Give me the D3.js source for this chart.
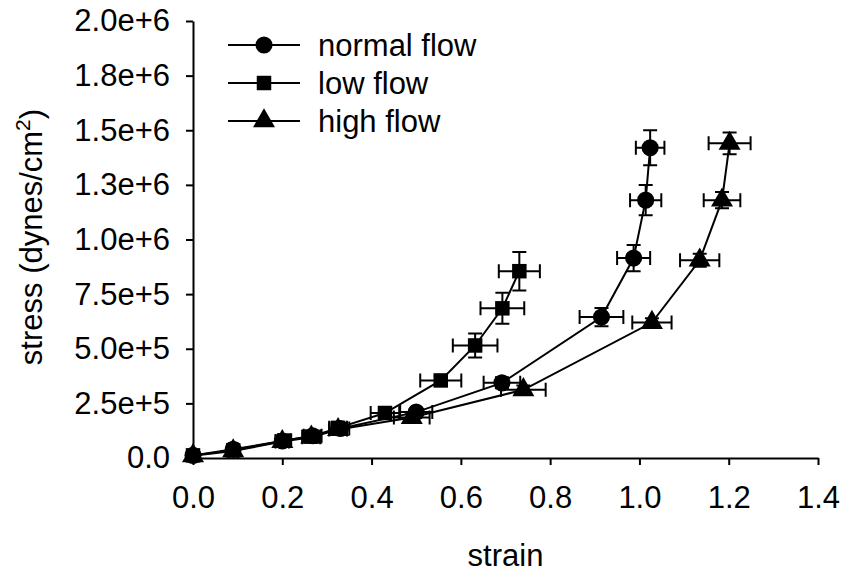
<!DOCTYPE html>
<html>
<head>
<meta charset="utf-8">
<script src="https://cdn.jsdelivr.net/npm/d3@7"></script>
<style>
  body { margin: 0; background: #fff; }
  text { font-family: "Liberation Sans", Arial, sans-serif; fill: #000; }
</style>
</head>
<body>
<svg class="chart"></svg>
<script>
const size = { w: 845, h: 574 };
const margin = { top: 21, right: 27, bottom: 116, left: 193 };

// data: [strain, stress]
const normalFlow = [[0, 1.2e4], [0.09, 4e4], [0.2, 7.8e4], [0.268, 1.02e5], [0.33, 1.35e5], [0.5, 2.1e5], [0.692, 3.44e5], [0.915, 6.45e5], [0.987, 9.15e5], [1.014, 1.18e6], [1.024, 1.42e6]];
const normalXErr = [0, 0.01, 0.015, 0.02, 0.02, 0.036, 0.041, 0.049, 0.037, 0.035, 0.032];
const normalYErr = [0, 5e3, 8e3, 1e4, 1e4, 1.5e4, 2.5e4, 4.2e4, 6e4, 6.9e4, 8e4];

const lowFlow = [[0, 1.2e4], [0.09, 3.5e4], [0.205, 8e4], [0.265, 9.8e4], [0.325, 1.38e5], [0.43, 2.06e5], [0.555, 3.55e5], [0.632, 5.15e5], [0.693, 6.85e5], [0.731, 8.55e5]];
const lowXErr = [0, 0.01, 0.015, 0.02, 0.02, 0.032, 0.046, 0.05, 0.049, 0.046];
const lowYErr = [0, 5e3, 8e3, 1e4, 1.2e4, 1.5e4, 2e4, 5.5e4, 7.1e4, 8.8e4];

const highFlow = [[0, 1e4], [0.09, 3.2e4], [0.2, 7.5e4], [0.265, 9.5e4], [0.325, 1.3e5], [0.49, 1.85e5], [0.74, 3.12e5], [1.028, 6.2e5], [1.135, 9.05e5], [1.185, 1.18e6], [1.202, 1.44e6]];
const highXErr = [0, 0.01, 0.015, 0.02, 0.02, 0.04, 0.05, 0.044, 0.044, 0.041, 0.047];
const highYErr = [0, 5e3, 8e3, 1e4, 1e4, 1.5e4, 2e4, 2e4, 3e4, 3.7e4, 5e4];

const xTicks = [0, 0.2, 0.4, 0.6, 0.8, 1.0, 1.2, 1.4];
const yTicks = [0, 2.5e5, 5e5, 7.5e5, 1e6, 1.25e6, 1.5e6, 1.75e6, 2e6];
const yTickLabels = ["0.0", "2.5e+5", "5.0e+5", "7.5e+5", "1.0e+6", "1.3e+6", "1.5e+6", "1.8e+6", "2.0e+6"];

const seriesNames = ["normal flow", "low flow", "high flow"];
const seriesSymbols = [d3.symbolCircle, d3.symbolSquare, d3.symbolTriangle];
const symbolSizes = [230, 210, 210];

const series = [
	{ data: normalFlow, xe: normalXErr, ye: normalYErr },
	{ data: lowFlow, xe: lowXErr, ye: lowYErr },
	{ data: highFlow, xe: highXErr, ye: highYErr },
];

const svg = d3.select("svg.chart").attr("width", size.w).attr("height", size.h);
const plotW = size.w - margin.left - margin.right;
const plotH = size.h - margin.top - margin.bottom;
const g = svg.append("g").attr("transform", `translate(${margin.left},${margin.top})`);

const x = d3.scaleLinear().domain([0, 1.4]).range([0, plotW]);
const y = d3.scaleLinear().domain([0, 2e6]).range([plotH, 0]);

// axes
const xAxis = g.append("g")
	.attr("transform", `translate(0,${plotH})`)
	.call(d3.axisBottom(x).tickValues(xTicks).tickFormat(d3.format(".1f")).tickSizeOuter(0).tickSizeInner(7).tickPadding(21));
const yAxis = g.append("g")
	.call(d3.axisLeft(y).tickValues(yTicks).tickFormat((d, i) => yTickLabels[i]).tickSizeOuter(0).tickSizeInner(7).tickPadding(16));

[xAxis, yAxis].forEach((ax) => {
	ax.select(".domain").attr("stroke", "#000").attr("stroke-width", 2);
	ax.selectAll(".tick line").attr("stroke", "#000").attr("stroke-width", 2);
	ax.selectAll(".tick text").attr("font-size", 31).attr("font-family", "Liberation Sans, Arial, sans-serif").attr("fill", "#000");
});

// axis titles
svg.append("text")
	.attr("x", margin.left + plotW / 2)
	.attr("y", 566)
	.attr("text-anchor", "middle")
	.attr("font-size", 31)
	.text("strain");

const yTitle = svg.append("text")
	.attr("transform", `translate(42,${margin.top + 216}) rotate(-90)`)
	.attr("text-anchor", "middle")
	.attr("font-size", 31);
yTitle.append("tspan").text("stress (dynes/cm");
yTitle.append("tspan").attr("font-size", 21).attr("dy", -12).text("2");
yTitle.append("tspan").attr("dy", 12).text(")");

// lines, error bars, markers
const line = d3.line().x((d) => x(d[0])).y((d) => y(d[1]));
const cap = 7;

series.forEach((s, k) => {
	const sg = g.append("g");
	sg.append("path")
		.datum(s.data)
		.attr("d", line)
		.attr("fill", "none")
		.attr("stroke", "#000")
		.attr("stroke-width", 2);

	const eb = sg.selectAll("g.err")
		.data(s.data.map((d, i) => ({ x: d[0], y: d[1], xe: s.xe[i], ye: s.ye[i] })).filter((d) => d.xe > 0 || d.ye > 0))
		.join("g")
		.attr("class", "err")
		.attr("stroke", "#000")
		.attr("stroke-width", 2);
	eb.append("path").attr("d", (d) => {
		const cx = x(d.x), cy = y(d.y);
		const x0 = x(d.x - d.xe), x1 = x(d.x + d.xe);
		const y0 = y(d.y - d.ye), y1 = y(d.y + d.ye);
		return `M${x0},${cy}H${x1}M${x0},${cy - cap}V${cy + cap}M${x1},${cy - cap}V${cy + cap}` +
			`M${cx},${y0}V${y1}M${cx - cap},${y0}H${cx + cap}M${cx - cap},${y1}H${cx + cap}`;
	}).attr("fill", "none");

	sg.selectAll("path.mark")
		.data(s.data)
		.join("path")
		.attr("class", "mark")
		.attr("d", d3.symbol(seriesSymbols[k], symbolSizes[k]))
		.attr("transform", (d) => `translate(${x(d[0])},${y(d[1])})`)
		.attr("fill", "#000");
});

// legend
const legend = svg.append("g").attr("transform", "translate(228,45)");
seriesNames.forEach((name, k) => {
	const row = legend.append("g").attr("transform", `translate(0,${k * 38})`);
	row.append("line").attr("x1", 0).attr("x2", 72).attr("stroke", "#000").attr("stroke-width", 2);
	row.append("path").attr("d", d3.symbol(seriesSymbols[k], symbolSizes[k])).attr("transform", "translate(36,0)").attr("fill", "#000");
	row.append("text").attr("x", 90).attr("dy", "0.35em").attr("font-size", 31).text(name);
});
</script>
</body>
</html>
